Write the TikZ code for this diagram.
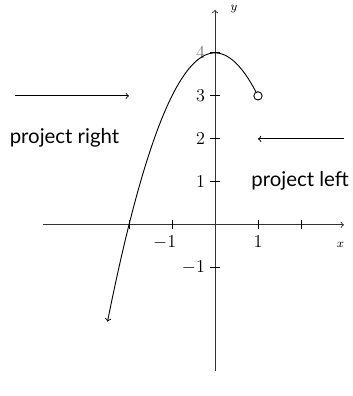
\documentclass[tikz,border=0pt]{standalone}
\usepackage{fontspec}
\newfontfamily\labelfont{Lato}
\usetikzlibrary{positioning}
\tikzset{
  axislabel/.style={font=\footnotesize},
  ticklabel/.style={font=\large},
  projlabel/.style={font=\labelfont\fontsize{13.5}{16}\selectfont},
  opendot/.style={circle,draw,fill=white,inner sep=0pt,minimum size=5.5pt}
}
\begin{document}
\begin{tikzpicture}[x=1cm,y=1cm,semithick]
\useasboundingbox (-5,-3.98) rectangle (3.21,5.23);
% axes
\draw[->,black!80] (-4,0) -- (3,0);
\draw[->,black!80] (0,-3.4) -- (0,5);
\node[axislabel] (xlab) at (2.92,-0.47) {$x$};
\node[axislabel] (ylab) at (0.44,5.02) {$y$};
% ticks
\foreach \x in {-2,-1,1,2} \draw (\x,3pt) -- (\x,-3pt);
\foreach \y in {-1,1,2,3,4} \draw (3pt,\y) -- (-3pt,\y);
\node[ticklabel] (xm1) at (-1.17,-0.4) {$-1$};
\node[ticklabel] (xp1) at (1,-0.4) {$1$};
\foreach \y in {1,2,3} \node[ticklabel,left] (y\y) at (-3pt,\y) {$\y$};
\node[ticklabel,left,text=black!55] (y4) at (-3pt,4) {$4$};
\node[ticklabel,left] (ym1) at (-3pt,-1) {$-1$};
% curve
\draw[<-] plot[domain=-2.5:1,samples=60] (\x,{4-\x*\x});
\node[opendot] (end) at (1,3) {};
% projections
\node[projlabel] (pright) at (-3.5,2.02) {project right};
\coordinate (prs) at (-4.65,3);
\coordinate (pre) at (-2,3);
\draw[->] (prs) -- (pre);
\node[projlabel] (pleft) at (1.98,1.02) {project left};
\coordinate (pls) at (3,2);
\coordinate (ple) at (1,2);
\draw[->] (pls) -- (ple);
\end{tikzpicture}
\end{document}
